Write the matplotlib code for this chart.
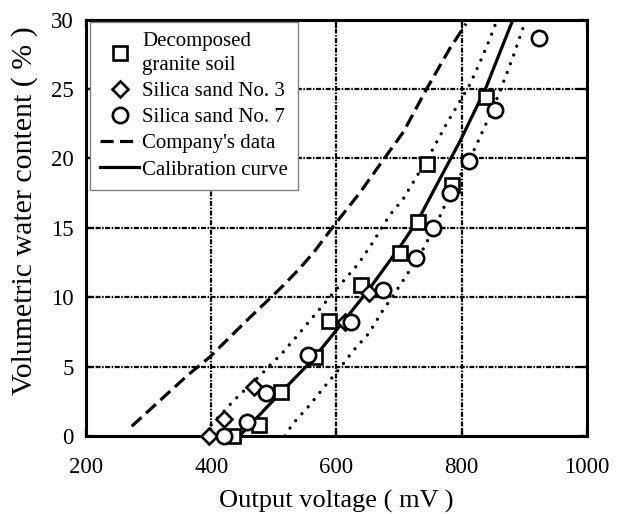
import matplotlib
matplotlib.use("Agg")
import matplotlib.pyplot as plt
from matplotlib.lines import Line2D

plt.rcParams["font.family"] = ["Liberation Serif", "DejaVu Serif"]
plt.rcParams["lines.scale_dashes"] = False

# measured points
granite_v = [435, 477, 512, 565, 588, 639, 701, 731, 745, 785, 839]
granite_w = [0.0, 0.8, 3.2, 5.7, 8.3, 10.9, 13.2, 15.4, 19.6, 18.1, 24.4]

sand3_v = [397, 421, 469, 614, 652]
sand3_w = [0.0, 1.2, 3.5, 8.2, 10.3]

sand7_v = [420, 457, 487, 554, 623, 674, 727, 755, 781, 812, 853, 924]
sand7_w = [0.0, 1.0, 3.1, 5.8, 8.2, 10.5, 12.8, 15.0, 17.5, 19.8, 23.5, 28.7]

# company's data (dashed)
company_v = [273, 363, 398, 454, 512, 542, 565, 595, 637, 675, 707, 744, 781, 807]
company_w = [0.7, 4.4, 5.7, 8.2, 10.7, 12.1, 13.3, 15.1, 17.5, 19.9, 21.9, 25.0, 27.9, 29.7]

# calibration curve (solid)
calib_v = [445, 500, 560, 605, 651, 701, 731, 765, 797, 838, 882]
calib_w = [0.0, 2.6, 5.4, 7.9, 10.5, 13.6, 15.6, 18.5, 21.2, 25.0, 30.0]

# upper / lower bounds (dotted)
upper_v = [400, 435, 451, 479, 494, 512, 536, 563, 608, 635, 656, 685, 707, 723, 752, 776, 813, 832, 845, 856]
upper_w = [0.8, 2.5, 3.2, 4.4, 5.1, 5.9, 7.15, 8.6, 11.0, 12.4, 13.8, 15.9, 17.1, 18.3, 20.5, 22.5, 25.3, 27.2, 28.6, 29.9]
lower_v = [518, 530, 555, 580, 604, 628, 652, 672, 692, 711, 739, 763, 781, 821, 845, 861, 882, 898, 901]
lower_w = [0.0, 0.86, 2.1, 3.5, 4.8, 6.2, 7.4, 8.9, 10.2, 11.5, 13.5, 15.6, 17.4, 20.7, 23.1, 24.8, 27.3, 29.4, 30.0]

fig = plt.figure(figsize=(6.21, 5.14), dpi=100)
ax = fig.add_axes([0.1385, 0.1518, 0.8065, 0.8102])

grid_style = (0, (3.6, 1.1, 1.1, 1.1))
for gx in [400, 600, 800]:
    ax.axvline(gx, color="black", lw=1.6, linestyle=grid_style, zorder=1)
for gy in [5, 10, 15, 20, 25]:
    ax.axhline(gy, color="black", lw=1.6, linestyle=grid_style, zorder=1)

ax.plot(company_v, company_w, color="black", lw=2.3, linestyle=(0, (9.5, 4.5)), zorder=2)
ax.plot(calib_v, calib_w, color="black", lw=2.3, zorder=2)
for vv, ww in [(upper_v, upper_w), (lower_v, lower_w)]:
    ax.plot(vv, ww, color="black", lw=2.4, linestyle=(0, (0.01, 6.7)),
            dash_capstyle="round", zorder=2)

mk = dict(linestyle="none", markerfacecolor="white", markeredgecolor="black",
          markeredgewidth=1.9)
ax.plot(granite_v, granite_w, marker="s", markersize=10.5, zorder=3, clip_on=False, **mk)
ax.plot(sand3_v, sand3_w, marker="D", markersize=8, zorder=3, clip_on=False, **mk)
ax.plot(sand7_v, sand7_w, marker="o", markersize=11, zorder=3, clip_on=False, **mk)

ax.set_xlim(200, 1000)
ax.set_ylim(0, 30)
ax.set_xticks([200, 400, 600, 800, 1000])
ax.set_yticks([0, 5, 10, 15, 20, 25, 30])
ax.tick_params(direction="in", length=6, width=1.6, labelsize=16.5, top=True, right=True)
ax.tick_params(axis="x", pad=15)
ax.tick_params(axis="y", pad=9)
for s in ax.spines.values():
    s.set_linewidth(2.2)

ax.set_xlabel("Output voltage ( mV )", fontsize=19, labelpad=9)
ax.set_ylabel("Volumetric water content ( % )", fontsize=21.5)
ax.yaxis.set_label_coords(-0.096, 0.54)

handles = [
    Line2D([], [], marker="s", markersize=10.5, **mk),
    Line2D([], [], marker="D", markersize=8, **mk),
    Line2D([], [], marker="o", markersize=11, **mk),
    Line2D([], [], color="black", lw=2.3, linestyle=(0, (9.5, 4.5))),
    Line2D([], [], color="black", lw=2.3),
]
labels = ["Decomposed\ngranite soil", "Silica sand No. 3", "Silica sand No. 7",
          "Company's data", "Calibration curve"]
leg = ax.legend(handles, labels, loc="upper left", bbox_to_anchor=(0.008, 0.994),
                borderaxespad=0, fontsize=15, handlelength=1.85, handletextpad=0.15,
                labelspacing=0.32, borderpad=0.5, fancybox=False, framealpha=1,
                edgecolor="#808080")
leg.get_texts()[0].set_linespacing(1.3)
leg.get_frame().set_linewidth(1.0)
leg.set_zorder(5)

fig.savefig("out.png", dpi=100)
